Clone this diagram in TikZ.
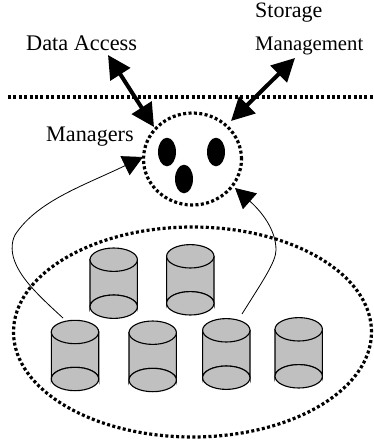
\documentclass[tikz,border=0pt]{standalone}
\usepackage{fontspec}
\setmainfont{Liberation Serif}
\usetikzlibrary{arrows.meta,shapes.geometric}
\tikzset{
  x=1pt,y=-1pt,
  dotline/.style={line width=3.2pt,dash pattern=on 3pt off 2.4pt},
  label text/.style={font=\fontsize{#1}{24}\selectfont,inner sep=0pt,anchor=base west},
  accessarrow/.style={line width=4pt,{Triangle[length=23pt,width=23pt]}-{Triangle[length=23pt,width=23pt]}},
  thinarrow/.style={line width=0.8pt,-{Triangle[length=20pt,width=21pt]}},
  person/.style={ellipse,fill=black,inner sep=0pt,minimum width=18pt,minimum height=28.5pt},
  cylline/.style={draw=black,line width=1.1pt,fill=cylgray},
}
\definecolor{cylgray}{HTML}{C0C0C0}
\newcommand{\cyl}[4]{% name, cx, top y, bottom y
  \path[cylline] (#2-23.7,#3) -- (#2-23.7,#4) arc[start angle=180,end angle=360,x radius=23.7,y radius=11.7] -- (#2+23.7,#3) -- cycle;
  \node[cylline,ellipse,inner sep=0pt,minimum width=47.4pt,minimum height=23.4pt] (#1) at (#2,#3) {};
  \path[cylline] (#2,#4) ellipse[x radius=23.7,y radius=11.7];
}
\begin{document}
\begin{tikzpicture}
\useasboundingbox (0,0) rectangle (373,444);
\fill[white] (0,0) rectangle (373,444);
\coordinate (lineL) at (8,97);
\coordinate (lineR) at (373,97);
\draw[dotline] (lineL) -- (lineR);
\node[ellipse,draw,dotline,inner sep=0pt,outer sep=0pt,minimum width=358pt,minimum height=210pt] (pool) at (192.5,332) {};
\cyl{c1}{113.7}{259.7}{306.7}
\cyl{c2}{190.3}{256.3}{303.3}
\cyl{c3}{75}{332}{379}
\cyl{c4}{152.7}{332.7}{380}
\cyl{c5}{226.3}{330.3}{377.7}
\cyl{c6}{298.7}{329.3}{376.3}
\node[ellipse,draw,dotline,inner sep=0pt,outer sep=0pt,minimum width=98pt,minimum height=92pt] (mgr) at (192.5,159) {};
\node[person] (p1) at (167,152) {};
\node[person] (p2) at (216,152) {};
\node[person] (p3) at (184,179) {};
\node[label text=22.3] (da) at (26,51) {Data Access};
\node[label text=22] (st) at (255,18) {Storage};
\node[label text=20.7] (sm) at (255,51) {Management};
\node[label text=22.2] (mg) at (46,141) {Managers};
\coordinate (daEnd) at (108,55);
\coordinate (mgrA) at (154,127);
\coordinate (smEnd) at (295,58);
\coordinate (mgrB) at (231,121);
\draw[accessarrow] (daEnd) -- (mgrA);
\draw[accessarrow] (smEnd) -- (mgrB);
\coordinate (c3top) at (63,318);
\coordinate (c5top) at (242,314);
\coordinate (mgrL) at (143,157);
\coordinate (mgrR) at (235,188);
\draw[thinarrow] (c3top) .. controls (40,297) and (22,280) .. (15,262)
  .. controls (10,250) and (12,238) .. (17,232)
  .. controls (40,200) and (85,185) .. (mgrL);
\draw[thinarrow] (c5top) .. controls (262,282) and (276,262) .. (276,250)
  .. controls (276,230) and (262,212) .. (mgrR);
\end{tikzpicture}
\end{document}
